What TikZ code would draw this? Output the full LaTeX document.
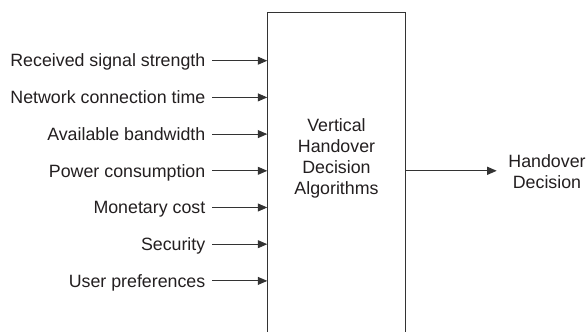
\documentclass[tikz,border=0pt]{standalone}
\usepackage{fontspec}
\setmainfont{Liberation Sans}
\usetikzlibrary{arrows.meta}
\definecolor{ink}{HTML}{231F20}
\definecolor{edge}{HTML}{333333}
\begin{document}
\begin{tikzpicture}[x=1pt,y=1pt,
  every node/.style={text=ink,font=\fontsize{17.8}{21}\selectfont},
  factor/.style={anchor=east,inner xsep=6.5pt,inner ysep=0pt,text height=12.6pt,text depth=0pt},
  feed/.style={draw=edge,line width=0.9pt,-{Triangle[length=9.5pt,width=8pt]}},
  algbox/.style={draw=edge,line width=0.9pt,minimum width=137.3pt,minimum height=330pt,inner sep=0pt}]
\useasboundingbox (0,0) rectangle (587,332);
\clip (0,0) rectangle (587,332);
\fill[white] (0,0) rectangle (587,332);
% decision block (its lower edge runs past the page)
\node[algbox] (vhd) at (336.35,154.7) {};
\node[align=center,inner sep=0pt] (vhdtext) at (336.5,173.5) {Vertical\\Handover\\Decision\\Algorithms};
% input criteria
\node[factor] (f1) at (212,271.3) {Received signal strength};
\node[factor] (f2) at (212,234.6) {Network connection time};
\node[factor] (f3) at (212,197.9) {Available bandwidth};
\node[factor] (f4) at (212,161.2) {Power consumption};
\node[factor] (f5) at (212,124.5) {Monetary cost};
\node[factor] (f6) at (212,87.8) {Security};
\node[factor] (f7) at (212,51.1) {User preferences};
\foreach \i in {1,...,7}
  \draw[feed] (f\i.east) -- (f\i.east -| vhd.west);
% output
\node[align=center,inner xsep=11.5pt,inner ysep=0pt] (out) at (547,160.5) {Handover\\Decision};
\draw[feed] (vhd.east |- f4.east) -- (out.west |- f4.east);
\end{tikzpicture}
\end{document}
